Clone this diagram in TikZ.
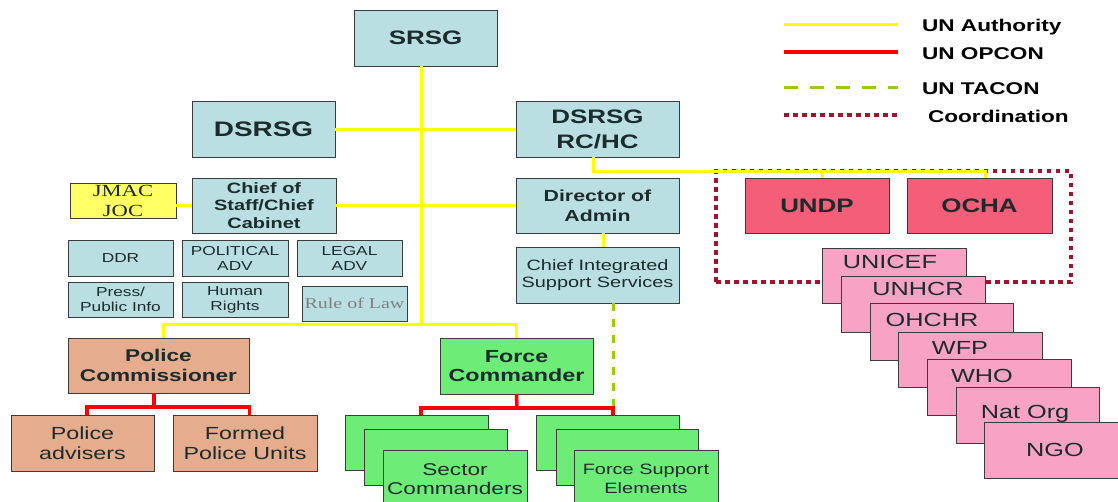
\documentclass[tikz,border=0pt]{standalone}
\usepackage{fontspec}
\setmainfont[FakeStretch=1.33]{Liberation Sans}
\newfontfamily\serifft[FakeStretch=1.33]{Liberation Serif}
\newcommand\myfs[2]{\fontsize{#1}{#2}\selectfont}
\definecolor{boxblue}{HTML}{B9DFE2}
\definecolor{bordc}{HTML}{3C3C3C}
\definecolor{txtc}{HTML}{1C2B2B}
\definecolor{jmacy}{HTML}{FFFF66}
\definecolor{salmon}{HTML}{E6AC8E}
\definecolor{grn}{HTML}{6EEC78}
\definecolor{rosered}{HTML}{F45E78}
\definecolor{pinkb}{HTML}{F8A3C4}
\definecolor{coordc}{HTML}{A3122E}
\definecolor{taconc}{HTML}{9ACD00}
\definecolor{uny}{HTML}{FFFF00}
\definecolor{unr}{HTML}{FF0000}
\begin{document}
\begin{tikzpicture}[x=1pt,y=-1pt,
  bx/.style={draw=bordc, line width=1pt, outer sep=0pt, inner sep=0pt, align=center, anchor=north west, text=txtc},
  wh/.style n args={2}{minimum width=#1pt, minimum height=#2pt},
  bluebox/.style={bx, fill=boxblue},
  smallbox/.style={bluebox, font=\myfs{13}{15}},
  salbox/.style={bx, fill=salmon},
  grnbox/.style={bx, fill=grn},
  rosebox/.style={bx, fill=rosered, font=\myfs{19.5}{23}\bfseries},
  pinkbox/.style={bx, fill=pinkb},
  pinktxt/.style={anchor=center, inner sep=0pt, outer sep=0pt, text=txtc, font=\myfs{19}{22}, text height=13.6pt, text depth=0pt},
  legtxt/.style={anchor=west, inner sep=0pt, outer sep=0pt, text=black, font=\myfs{17}{20}\bfseries, text height=12.2pt, text depth=0pt},
  auth/.style={draw=uny, line width=3pt},
  opcon/.style={draw=unr, line width=3.5pt},
  taconl/.style={draw=taconc, line width=3pt, dash pattern=on 8pt off 8pt},
  taconleg/.style={draw=taconc, line width=3pt, dash pattern=on 14pt off 12pt},
  coordl/.style={draw=coordc, line width=3.5pt, dash pattern=on 4.5pt off 4.5pt}
]
\useasboundingbox (0,0) rectangle (1118,501);
\fill[white] (0,0) rectangle (1118,501);

% ---------- legend ----------
\coordinate (la1) at (784,24);  \coordinate (la2) at (898,24);
\coordinate (lb1) at (784,52);  \coordinate (lb2) at (898,52);
\coordinate (lc1) at (784,87);  \coordinate (lc2) at (898,87);
\coordinate (ld1) at (784,115); \coordinate (ld2) at (898,115);
\draw[auth] (la1) -- (la2);
\draw[opcon] (lb1) -- (lb2);
\draw[taconleg] (lc1) -- (lc2);
\draw[coordl] (ld1) -- (ld2);
\node[legtxt] (lt1) at (922,25) {UN Authority};
\node[legtxt] (lt2) at (922,53) {UN OPCON};
\node[legtxt] (lt3) at (922,88) {UN TACON};
\node[legtxt] (lt4) at (928,116) {Coordination};

% ---------- top hierarchy ----------
\node[bluebox, wh={143}{56}, font=\myfs{19.5}{23}\bfseries] (srsg) at (354,10) {SRSG};
\node[bluebox, wh={143}{56}, font=\myfs{21}{25}\bfseries] (dsrsgl) at (192,101) {DSRSG};
\node[bluebox, wh={163}{56}, font=\myfs{19.5}{25}\bfseries] (rchc) at (516,101) {DSRSG\\RC/HC};
\node[bluebox, wh={144}{55}, font=\myfs{15}{17.7}\bfseries] (chief) at (192,178) {Chief of\\Staff/Chief\\Cabinet};
\node[bluebox, wh={163}{55}, font=\myfs{16}{20}\bfseries] (dir) at (516,178) {Director of\\Admin};
\node[bx, fill=jmacy, wh={106}{35}, font=\serifft\myfs{17}{20}] (jmac) at (70,183) {JMAC\\JOC};

\node[smallbox, wh={105}{36}] (ddr) at (68,240) {DDR};
\node[smallbox, wh={106}{36}] (pol) at (182,240) {POLITICAL\\ADV};
\node[smallbox, wh={105}{36}] (legal) at (297,240) {LEGAL\\ADV};
\node[smallbox, wh={105}{35}] (press) at (68,282) {Press/\\Public Info};
\node[smallbox, wh={106}{35}] (hr) at (182,282) {Human\\Rights};
\node[bluebox, wh={105}{35}, font=\serifft\myfs{15}{17}, text=gray] (rol) at (302,286) {Rule of Law};

\node[bluebox, wh={163}{56}, font=\myfs{15}{17.7}] (cis) at (516,247) {Chief Integrated\\Support Services};

% ---------- police / force ----------
\node[salbox, wh={181}{55}, font=\myfs{17}{20}\bfseries] (pc) at (68,338) {Police\\Commissioner};
\node[grnbox, wh={153}{56}, font=\myfs{17.5}{19.5}\bfseries] (fc) at (440,338) {Force\\Commander};
\node[salbox, wh={143}{56}, font=\myfs{17.5}{20}] (pa) at (11,415) {Police\\advisers};
\node[salbox, wh={144}{56}, font=\myfs{17.5}{20}] (fpu) at (173,415) {Formed\\Police Units};

\node[grnbox, wh={143}{55}] (sc1) at (345,415) {};
\node[grnbox, wh={143}{56}] (sc2) at (364,429) {};
\node[grnbox, wh={144}{60}, font=\myfs{17}{20}] (sc3) at (383,450) {\raisebox{2pt}{\shortstack{Sector\\[3pt]Commanders}}};
\node[grnbox, wh={143}{55}] (fs1) at (536,415) {};
\node[grnbox, wh={142}{56}] (fs2) at (556,429) {};
\node[grnbox, wh={144}{60}, font=\myfs{15}{17}] (fs3) at (574,450) {\raisebox{2pt}{\shortstack{Force Support\\[2pt]Elements}}};

% ---------- UN family ----------
\node[coordl, anchor=north west, outer sep=0pt, inner sep=0pt, minimum width=355pt, minimum height=111pt] (coordframe) at (716,171) {};
\node[rosebox, wh={144}{55}] (undp) at (745,178) {UNDP};
\node[rosebox, wh={145}{55}] (ocha) at (907,178) {OCHA};

\node[pinkbox, wh={144}{55}] (unicef) at (822,248) {};
\node[pinktxt] (tunicef) at (890,262) {UNICEF};
\node[pinkbox, wh={144}{56}] (unhcr) at (841,276) {};
\node[pinktxt] (tunhcr) at (918,289) {UNHCR};
\node[pinkbox, wh={143}{57}] (ohchr) at (870,303) {};
\node[pinktxt] (tohchr) at (932,320) {OHCHR};
\node[pinkbox, wh={144}{55}] (wfp) at (898,332) {};
\node[pinktxt] (twfp) at (960,348) {WFP};
\node[pinkbox, wh={144}{56}] (who) at (927,359) {};
\node[pinktxt] (twho) at (982,376) {WHO};
\node[pinkbox, wh={143}{56}] (natorg) at (956,387) {};
\node[pinktxt] (tnatorg) at (1025,412) {Nat Org};
\node[pinkbox, wh={150}{56}] (ngo) at (984,422) {};
\node[pinktxt] (tngo) at (1055,450) {NGO};

% ---------- connectors ----------
\coordinate (tj) at (421,324);
\coordinate (rcbend) at (593,171);
\draw[auth] ([xshift=-4.5pt]srsg.south) -- (tj);
\draw[auth] (dsrsgl.east) -- (rchc.west);
\draw[auth] (chief.east) -- (dir.west);
\draw[auth] (chief.west) -- (chief.west -| jmac.east);
\draw[auth] ([xshift=5.5pt]dir.south) -- ([xshift=5.5pt]cis.north);
\draw[auth] (tj) -| ([xshift=4.5pt]pc.north);
\draw[auth] (tj) -| (fc.north);
\draw[auth] ([xshift=-4.5pt]rchc.south) |- ([xshift=5.5pt]ocha.north |- rcbend) -- ([xshift=5.5pt]ocha.north);
\draw[auth] ([xshift=5pt]undp.north) -- ([xshift=5pt]undp.north |- rcbend);

\coordinate (pcj) at (154,407);
\coordinate (fcj) at (517,408);
\draw[taconl] ([xshift=15.5pt]cis.south) -- ([xshift=5.5pt]fs1.north |- fcj);
\draw[opcon] ([xshift=-4.5pt]pc.south) -- (pcj);
\draw[opcon] ([xshift=4.5pt]pa.north) |- (pcj) -| ([xshift=4.5pt]fpu.north);
\draw[opcon] (fc.south) -- (fcj);
\draw[opcon] ([xshift=4.5pt]sc1.north) |- (fcj) -| ([xshift=5.5pt]fs1.north);
\end{tikzpicture}
\end{document}
